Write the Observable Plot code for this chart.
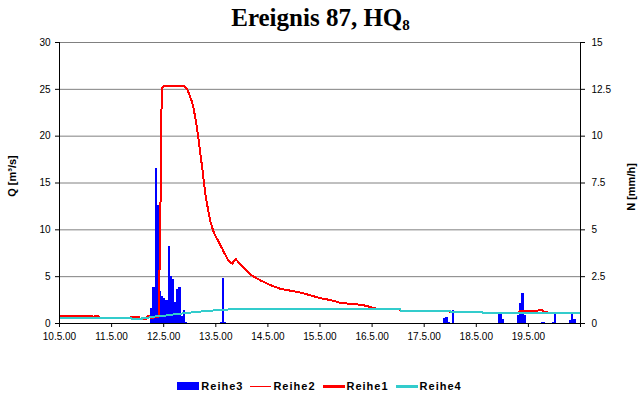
<!DOCTYPE html>
<html><head><meta charset="utf-8">
<script src="https://cdn.jsdelivr.net/npm/d3@7"></script>
<script src="https://cdn.jsdelivr.net/npm/@observablehq/plot@0.6"></script>
<style>
html,body{margin:0;padding:0;background:#fff;}
#wrap{width:643px;height:407px;position:relative;overflow:hidden;font-family:"Liberation Sans",Arial,sans-serif;color:#000;}
#title{height:36px;line-height:36px;text-align:center;font-family:"Liberation Serif","Times New Roman",serif;font-weight:bold;font-size:25px;padding-right:2px;}
#title .sub{font-size:15px;position:relative;top:4px;}
#chart svg{display:block;}
#legend{position:absolute;left:0;top:379px;width:639px;padding-right:4px;height:14px;display:flex;justify-content:center;align-items:center;font-weight:bold;font-size:11px;letter-spacing:1px;}
#legend .item{display:flex;align-items:center;margin-left:7px;}
#legend .item:first-child{margin-left:0;}
#legend .sw{margin-right:2px;}
</style>
</head><body>
<div id="wrap">
  <div id="title">Ereignis 87, HQ<span class="sub">8</span></div>
  <div id="chart"></div>
  <div id="legend"></div>
</div>
<script>
// x in hours since 10.5.00 00:00
const xTickLabels = ["10.5.00","11.5.00","12.5.00","13.5.00","14.5.00","15.5.00","16.5.00","17.5.00","18.5.00","19.5.00"];
const qTicks = [0, 5, 10, 15, 20, 25, 30];
const qLabel = "Q [m³/s]";
const nLabel = "N [mm/h]";

// Reihe3: precipitation N [mm/h], hourly bars
const rainHours  = [42,43,44,45,46,47,48,49,50,51,52,53,54,55,56,57,58, 74,75,76, 177,178,179,181, 202,203,204, 211,212,213,214, 222,223, 227,228, 235,236,237];
const rainValues = [0.8,1.9,8.3,6.3,1.7,1.45,1.35,1.25,4.1,2.5,2.35,1.1,1.8,1.9,0.35,0.7,0.07, 0.08,2.4,0.08, 0.25,0.32,0.05,0.7, 0.46,0.46,0.22, 0.45,1.05,1.6,0.45, 0.05,0.05, 0.05,0.52, 0.16,0.46,0.22];

// Reihe1: discharge Q [m3/s]
const reihe1T = [0,15.3,15.6,16.1,18,18.4,32.6,33,36.5,36.9,39.8,40.2,41.6,42,45.6,46.1,46.6,47.0,47.4,48,57.1,58.1,59,59.9,60.8,61.6,62.2,62.8,63.5,64.1,64.7,65.3,65.9,66.5,67.3,68.1,68.7,69.6,70.4,71.1,71.9,72.7,73.4,74.2,75,75.7,76.5,77.3,78,78.8,79.6,80.2,81.1,81.9,83.4,85.7,88,90.3,92.6,97.2,101.8,106.5,111.1,115.7,120.3,124.9,129.5,134.1,138.7,141,144.2,147.5,157,157.1,180,180.1,195,195.1,211.5,212,220,220.5,222.5,223,224.5,225,240];
const reihe1Q = [0.75,0.75,0.6,0.75,0.75,0.6,0.6,0.72,0.72,0.5,0.5,0.75,0.75,0.6,0.7,6,14,23,25.2,25.4,25.4,25.2,24.9,24.4,23.8,23.2,22.4,21.7,20.6,19.6,18.5,17.4,16.4,15.1,13.7,12.6,11.8,10.8,10.2,9.7,9.3,9.0,8.7,8.3,8.0,7.6,7.3,6.9,6.7,6.5,6.4,6.6,6.9,6.7,6.3,5.8,5.2,4.9,4.6,4.1,3.7,3.5,3.3,3.0,2.7,2.5,2.2,2.1,2.0,1.9,1.7,1.5,1.5,1.3,1.3,1.2,1.2,1.1,1.1,1.3,1.3,1.4,1.4,1.25,1.25,1.1,1.1];

// Reihe4
const reihe4T = [0,33,33.2,38,38.2,40,44,49,52,55,59,62.5,66.5,71,78,157,157.2,180,180.2,195,195.2,240];
const reihe4Q = [0.6,0.6,0.5,0.5,0.6,0.6,0.75,0.85,0.95,1.03,1.14,1.21,1.32,1.39,1.5,1.5,1.3,1.3,1.2,1.2,1.1,1.1];

const seriesNames = ["Reihe3","Reihe2","Reihe1","Reihe4"];
const colors = {Reihe3: "#0000ff", Reihe2: "#ff0000", Reihe1: "#ff0000", Reihe4: "#33cccc"};

const rain = rainHours.map((h, i) => ({h0: h, h1: h + 1, nq: rainValues[i] * 2}));
const reihe1 = reihe1T.map((t, i) => ({t, q: reihe1Q[i]}));
const reihe4 = reihe4T.map((t, i) => ({t, q: reihe4Q[i]}));
const hourTicks = d3.range(0, 241, 24);

const chart = Plot.plot({
  width: 643, height: 330,
  marginLeft: 59, marginRight: 63, marginTop: 6, marginBottom: 43,
  x: {domain: [0, 240]},
  y: {domain: [0, 30]},
  style: {fontFamily: '"Liberation Sans", Arial, sans-serif', fontSize: "10px", color: "#000", background: "#fff", overflow: "visible"},
  marks: [
    Plot.gridY(qTicks.filter(d => d > 0), {stroke: "#808080", strokeOpacity: 1, strokeWidth: 1}),
    Plot.rectY(rain, {x1: "h0", x2: "h1", y1: 0, y2: "nq", fill: colors.Reihe3, shapeRendering: "crispEdges"}),
    Plot.line(reihe1, {x: "t", y: "q", stroke: colors.Reihe1, strokeWidth: 2, shapeRendering: "crispEdges"}),
    Plot.line(reihe4, {x: "t", y: "q", stroke: colors.Reihe4, strokeWidth: 2, shapeRendering: "crispEdges"}),
    Plot.ruleY([0], {stroke: "#000"}),
    Plot.ruleX([0, 240], {stroke: "#000"}),
    Plot.axisY(qTicks, {anchor: "left", tickSize: 4, tickPadding: 5, label: null, tickFormat: d => String(d)}),
    Plot.axisY(qTicks, {anchor: "right", tickSize: 4, tickPadding: 7, label: null, tickFormat: d => String(d / 2)}),
    Plot.axisX(hourTicks, {anchor: "bottom", tickSize: 4, tickPadding: 5, label: null, tickFormat: d => xTickLabels[d / 24] ?? ""}),
    Plot.text([qLabel], {text: d => d, frameAnchor: "left", textAnchor: "middle", dx: -47, dy: -7, rotate: -90, fontWeight: "bold", fontSize: 11}),
    Plot.text([nLabel], {text: d => d, frameAnchor: "right", textAnchor: "middle", dx: 51, dy: 4, rotate: -90, fontWeight: "bold", fontSize: 11})
  ]
});
document.getElementById("chart").appendChild(chart);

// legend
const legend = document.getElementById("legend");
for (const name of seriesNames) {
  const item = document.createElement("div");
  item.className = "item";
  const sw = document.createElement("span");
  sw.className = "sw";
  sw.style.display = "inline-block";
  sw.style.background = colors[name];
  if (name === "Reihe3") { sw.style.width = "22px"; sw.style.height = "8px"; }
  else if (name === "Reihe2") { sw.style.width = "21px"; sw.style.height = "1px"; }
  else { sw.style.width = "22px"; sw.style.height = "3px"; }
  const lab = document.createElement("span");
  lab.textContent = name;
  item.appendChild(sw);
  item.appendChild(lab);
  legend.appendChild(item);
}
</script>
</body></html>
